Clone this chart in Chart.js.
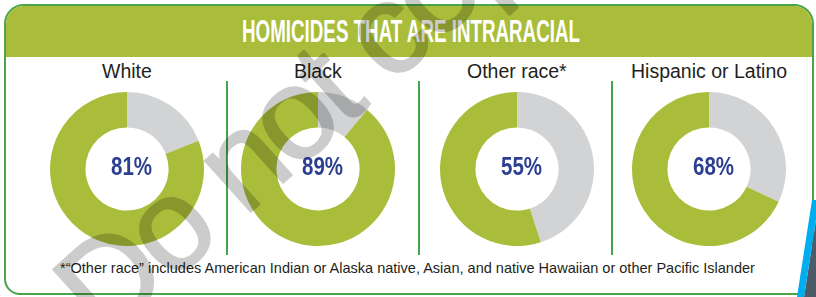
<!DOCTYPE html>
<html>
<head>
<meta charset="utf-8">
<script src="https://cdn.jsdelivr.net/npm/chart.js@4.4.1/dist/chart.umd.min.js"></script>
<style>
  html, body { margin: 0; padding: 0; background: #fff; }
  #page { position: relative; width: 816px; height: 297px; overflow: hidden; font-family: "Liberation Sans", Arial, sans-serif; }
  #frame { position: absolute; left: 4px; top: 4px; width: 806px; height: 287px; border: 2px solid #4aa546; border-radius: 20px 20px 16px 16px; overflow: hidden; }
  #header { position: absolute; left: 0; top: 0; right: 0; height: 51px; background: #a9bd3a; }
  .fit { position: absolute; white-space: nowrap; transform-origin: 0 0; }
  #title { color: #fff; font-weight: bold; font-size: 32px; }
  .label { color: #231f20; font-size: 19.5px; }
  .pct { color: #2b3f91; font-weight: bold; font-size: 25px; }
  #note { color: #231f20; font-size: 15px; }
  .sep { position: absolute; top: 81px; width: 2px; height: 174px; background: #43a447; }
  .donut { position: absolute; top: 92px; width: 154px; height: 154px; }
</style>
</head>
<body>
<div id="page">
  <div id="frame"><div id="header"></div></div>
  <div class="sep" style="left:226px"></div>
  <div class="sep" style="left:418px"></div>
  <div class="sep" style="left:611px"></div>
  <canvas id="overlay" width="816" height="297" style="position:absolute;left:0;top:0;z-index:5"></canvas>
</div>
<script>
const categories = ["White", "Black", "Other race*", "Hispanic or Latino"];
const intraracial = [81, 89, 55, 68];
const centers = [127, 318, 517, 709];
const title = "HOMICIDES THAT ARE INTRARACIAL";
const footnote = "*\u201cOther race\u201d includes American Indian or Alaska native, Asian, and native Hawaiian or other Pacific Islander";
const watermark = "Do not copy";

const green = "#a9bd3a";
const grey = "#d1d3d4";
const page = document.getElementById("page");

// put a text centred on cx; if width is given, squeeze it to that width
function addText(text, cls, id, cx, top, width, sx) {
  const el = document.createElement("div");
  el.className = "fit " + cls;
  if (id) el.id = id;
  el.textContent = text;
  page.appendChild(el);
  const w = el.offsetWidth;
  const s = width ? width / w : (sx || 1);
  el.style.left = (cx - w * s / 2) + "px";
  el.style.top = top + "px";
  el.style.transform = "scaleX(" + s + ")";
  return el;
}

addText(title, "", "title", 411, 13, 338);

categories.forEach((name, i) => {
  addText(name, "label", null, centers[i], 60);

  const canvas = document.createElement("canvas");
  canvas.className = "donut";
  canvas.width = 154;
  canvas.height = 154;
  canvas.style.left = (centers[i] - 77) + "px";
  page.appendChild(canvas);

  new Chart(canvas, {
    type: "doughnut",
    data: {
      labels: ["Other", name],
      datasets: [{
        data: [100 - intraracial[i], intraracial[i]],
        backgroundColor: [grey, green],
        borderWidth: 0
      }]
    },
    options: {
      responsive: false,
      animation: false,
      cutout: "54%",
      layout: { padding: 0 },
      plugins: { legend: { display: false }, tooltip: { enabled: false } }
    }
  });

  addText(intraracial[i] + "%", "pct", null, centers[i] + 4, 152, 0, 0.82);
});

addText(footnote, "", "note", 407, 259, 695);

// corner of the next panel and the watermark, drawn on top
const ctx = document.getElementById("overlay").getContext("2d");
ctx.fillStyle = "#4d5a68";
ctx.beginPath();
ctx.moveTo(819, 200); ctx.lineTo(820, 297); ctx.lineTo(804, 297);
ctx.closePath();
ctx.fill();
ctx.fillStyle = "#00aeef";
ctx.beginPath();
ctx.moveTo(812, 200); ctx.lineTo(819, 200); ctx.lineTo(804, 297); ctx.lineTo(797, 297);
ctx.closePath();
ctx.fill();

const off = document.createElement("canvas");
off.width = 816;
off.height = 297;
const octx = off.getContext("2d");
octx.translate(105, 343);
octx.rotate(-42 * Math.PI / 180);
octx.font = "130px 'Liberation Sans'";
octx.letterSpacing = "-5px";
octx.fillStyle = "#000";
octx.strokeStyle = "#000";
octx.lineWidth = 2;
octx.lineJoin = "round";
octx.fillText(watermark, 0, 0);
octx.strokeText(watermark, 0, 0);
ctx.globalAlpha = 0.2;
ctx.drawImage(off, 0, 0);
ctx.globalAlpha = 1;
</script>
</body>
</html>
